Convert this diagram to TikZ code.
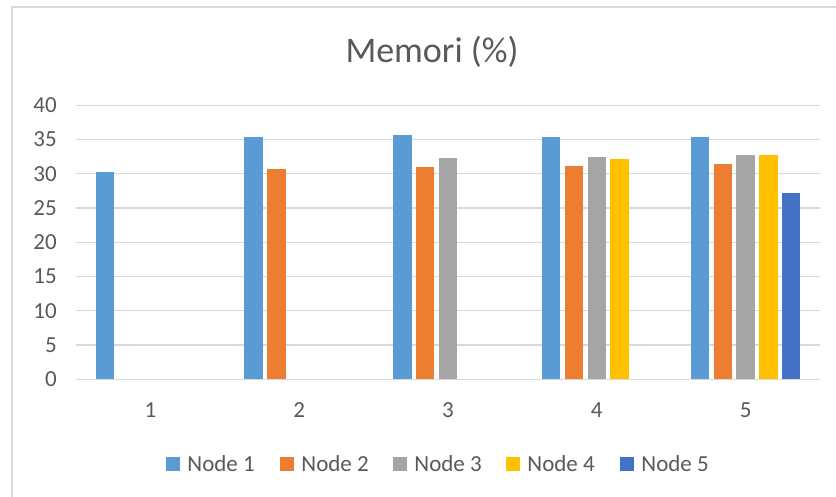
\documentclass[tikz,border=0pt]{standalone}
\usepackage{fontspec}
\setmainfont{Carlito}
\usepackage{tikz}
\usetikzlibrary{positioning}

\definecolor{series1}{HTML}{5B9BD5}
\definecolor{series2}{HTML}{ED7D31}
\definecolor{series3}{HTML}{A5A5A5}
\definecolor{series4}{HTML}{FFC000}
\definecolor{series5}{HTML}{4472C4}
\definecolor{gridgray}{HTML}{D9D9D9}
\definecolor{labelgray}{HTML}{595959}

\begin{document}
\begin{tikzpicture}[
    x=1pt, y=-1pt,
    gridline/.style={draw=gridgray, line width=1.3pt},
    frame/.style={draw=gridgray, line width=1.5pt},
    ticklabel/.style={text=labelgray, inner sep=0pt, font=\fontsize{23}{27}\selectfont},
    heading/.style={text=labelgray, inner sep=0pt, font=\fontsize{36}{42}\selectfont},
    keybox/.style={rectangle, minimum size=14pt, inner sep=0pt}
]
    \useasboundingbox (0,0) rectangle (836,497);
    % chart frame (only top and left edges show)
    \draw [frame] (12,497) -- (12,7) -- (836,7);

    \node (title) [heading] at (432,52) {Memori (\%)};

    % value axis: gridlines and labels
    \foreach \k in {0,...,8} {
        \pgfmathsetmacro{\gy}{379.3-34.25*\k}
        \draw [gridline] (76,\gy) -- (820,\gy);
        \pgfmathtruncatemacro{\val}{5*\k}
        \node (y\k) [ticklabel, anchor=east] at (57,\gy) {\val};
    }

    % bars, one group per category
    \foreach \g/\vals in {1/{30.2}, 2/{35.3,30.7}, 3/{35.6,31.0,32.3},
                          4/{35.3,31.1,32.4,32.1}, 5/{35.4,31.4,32.7,32.7,27.2}} {
        \pgfmathsetmacro{\cx}{150.4+148.8*(\g-1)}
        \node (c\g) [ticklabel] at (\cx,410) {\g};
        \foreach \v [count=\i] in \vals {
            \pgfmathsetmacro{\bx}{\cx+22.8*(\i-3)}
            \fill [series\i] (\bx-9.15,379.3) rectangle (\bx+9.15,{379.3-6.85*\v});
        }
    }

    % legend
    \foreach \i/\lx in {1/173, 2/287, 3/400, 4/513, 5/627} {
        \node (key\i) [keybox, fill=series\i] at (\lx,464) {};
        \node (lab\i) [ticklabel, right=7pt of key\i] {Node \i};
    }
\end{tikzpicture}
\end{document}
